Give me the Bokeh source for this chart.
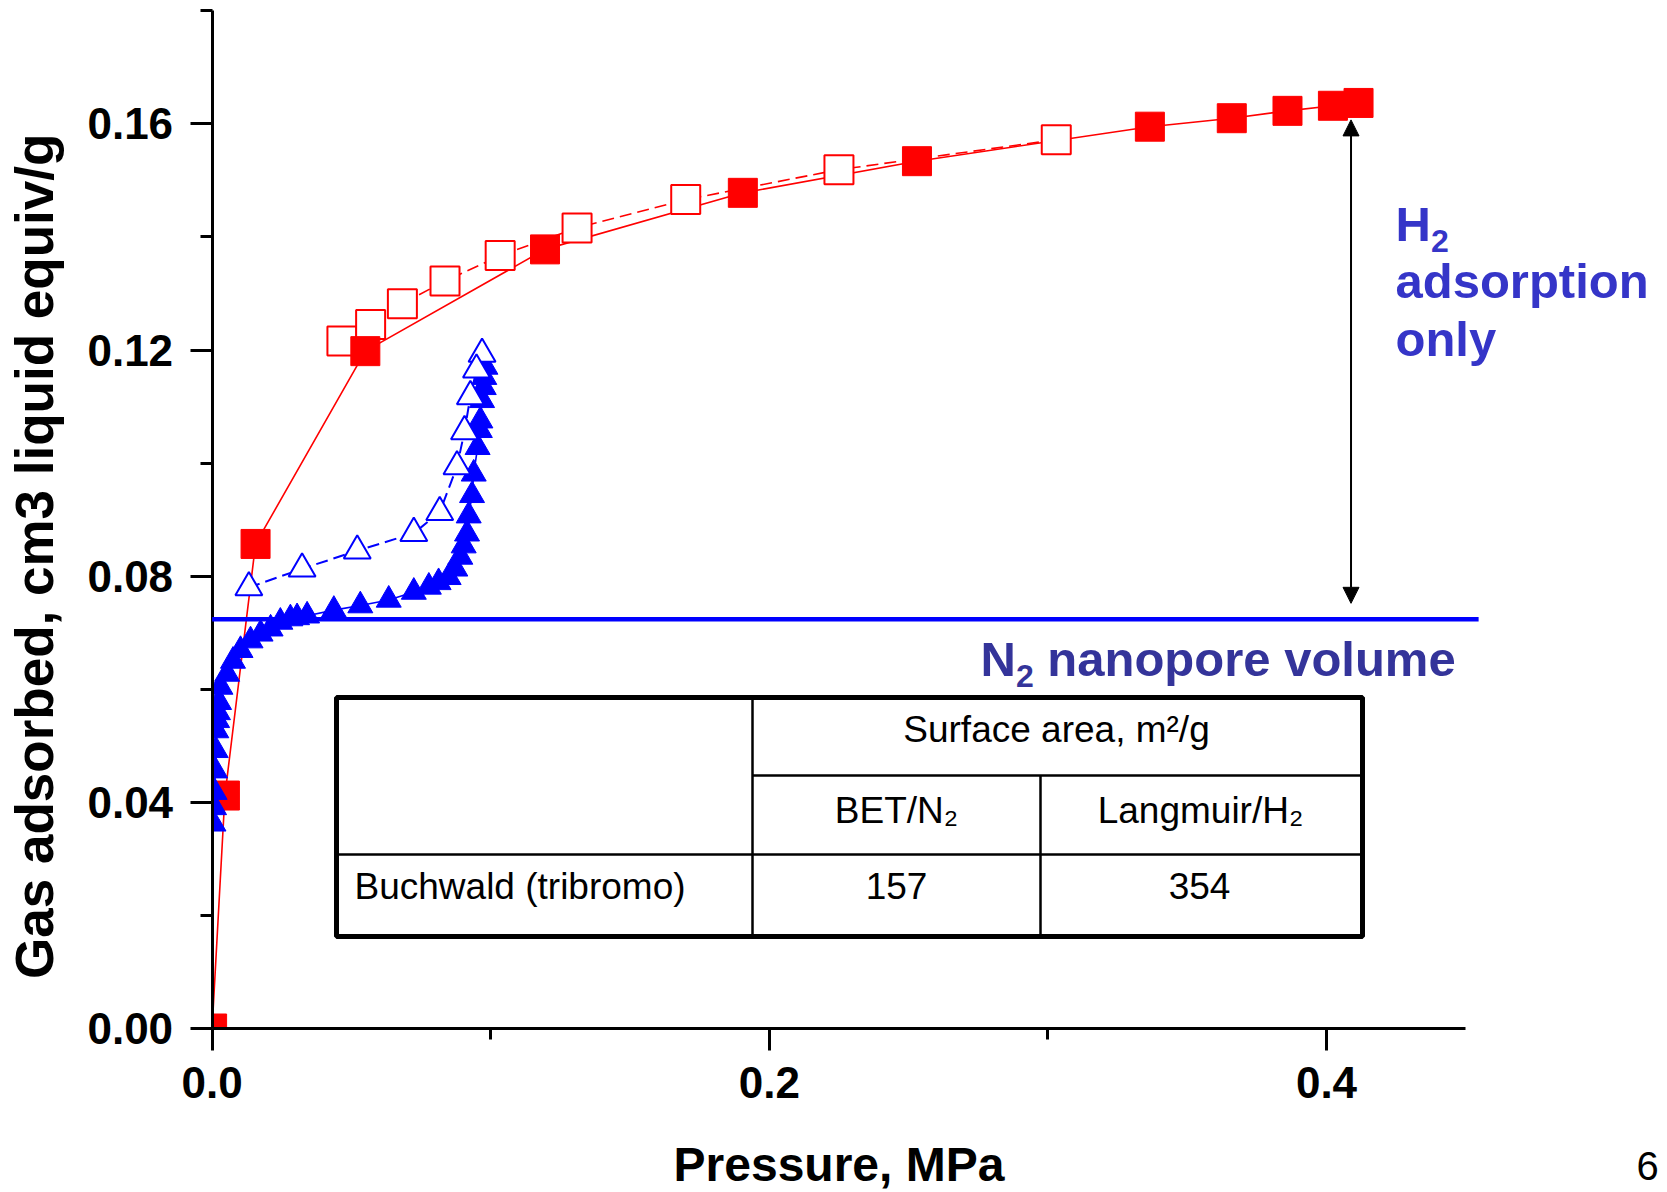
from bokeh.plotting import figure
from bokeh.models import Range1d, FixedTicker, NumeralTickFormatter, Label, Arrow, NormalHead
from bokeh.embed import file_html
from bokeh.resources import INLINE

# ---------------- data ----------------
# H2 adsorption (filled red squares)
h2_ads_x = [0.0, 0.0046, 0.0156, 0.055, 0.1195, 0.1905, 0.253, 0.3366, 0.366, 0.386, 0.4023, 0.4115]
h2_ads_y = [0.0, 0.0412, 0.0857, 0.1198, 0.1378, 0.1478, 0.1534, 0.1595, 0.1610, 0.1623, 0.1632, 0.1637]
# H2 desorption (open red squares)
h2_des_x = [0.0466, 0.0569, 0.0683, 0.0836, 0.1034, 0.131, 0.170, 0.225, 0.303]
h2_des_y = [0.1216, 0.1245, 0.1282, 0.1322, 0.1367, 0.1416, 0.1466, 0.1519, 0.1572]
# N2 adsorption (filled blue triangles)
n2_ads_x = [0.0005, 0.0007, 0.0009, 0.0011, 0.0013, 0.0015, 0.0018, 0.0021, 0.0025, 0.0030,
            0.0054, 0.0075, 0.0102, 0.0138, 0.0174, 0.0210, 0.0245, 0.0281, 0.0305, 0.0341,
            0.0437, 0.0532, 0.0634, 0.0724, 0.0778, 0.0813, 0.0849, 0.0873, 0.0891, 0.0903,
            0.0915, 0.0921, 0.0933, 0.0939, 0.0953, 0.0961, 0.0963, 0.0969, 0.0975, 0.0977, 0.0981]
n2_ads_y = [0.0362, 0.0391, 0.0418, 0.0456, 0.0492, 0.0527, 0.0545, 0.0559, 0.0577, 0.0604,
            0.0627, 0.0650, 0.0669, 0.0686, 0.0698, 0.0707, 0.0719, 0.0725, 0.0727, 0.0730,
            0.0740, 0.0748, 0.0758, 0.0772, 0.0781, 0.0789, 0.0798, 0.0813, 0.0834, 0.0854,
            0.0875, 0.0907, 0.0943, 0.0981, 0.1028, 0.1058, 0.1075, 0.1111, 0.1134, 0.1152, 0.1170]
# N2 desorption (open blue triangles)
n2_des_x = [0.0969, 0.0949, 0.0927, 0.0906, 0.0879, 0.0817, 0.0724, 0.0521, 0.0323, 0.0132]
n2_des_y = [0.1193, 0.1165, 0.1118, 0.1056, 0.0994, 0.0913, 0.0876, 0.0845, 0.0813, 0.0780]

n2_nanopore_volume = 0.0724
n2_line_end = 0.4546
h2_only_top = 0.1607
h2_only_bottom = 0.0752
h2_only_x = 0.4088

x_major = [0.0, 0.2, 0.4]
x_minor = [0.1, 0.3]
y_major = [0.0, 0.04, 0.08, 0.12, 0.16]
y_minor = [0.02, 0.06, 0.10, 0.14, 0.18]
x_axis_end = 0.45
y_axis_end = 0.18

table_header = "Surface area, m\u00b2/g"
table_cols = ["BET/N\u2082", "Langmuir/H\u2082"]
table_row = "Buchwald (tribromo)"
table_vals = ["157", "354"]

# ---------------- layout (page pixels) ----------------
W, H = 1666, 1190
X_ORIGIN_PX, Y_ORIGIN_PX = 211.6, 1028.0      # where (0, 0) sits on the page
PX_PER_X, PX_PER_Y = 2786.0, 5654.0           # pixels per data unit
FONT = "Liberation Sans"

def X(px):
    return (px - X_ORIGIN_PX) / PX_PER_X

def Y(py):
    return (Y_ORIGIN_PX - py) / PX_PER_Y

xr = Range1d(X(0), X(W))
yr = Range1d(Y(H), Y(0))

p = figure(width=W, height=H, output_backend="svg", toolbar_location=None,
           x_range=xr, y_range=yr, min_border=0)
p.outline_line_color = None
p.grid.visible = False
p.background_fill_color = "white"
p.border_fill_color = "white"

for ax in (p.xaxis[0], p.yaxis[0]):
    ax.fixed_location = 0
    ax.axis_line_width = 3
    ax.axis_line_color = "black"
    ax.major_tick_line_width = 3
    ax.minor_tick_line_width = 3
    ax.major_tick_line_color = "black"
    ax.minor_tick_line_color = "black"
    ax.major_tick_in = 0
    ax.minor_tick_in = 0
    ax.major_label_text_font = FONT
    ax.major_label_text_font_style = "bold"
    ax.major_label_text_font_size = "44px"
    ax.major_label_text_color = "black"
    ax.axis_label_text_font = FONT
    ax.axis_label_text_font_style = "bold"
    ax.axis_label_text_color = "black"

p.xaxis.bounds = (0, x_axis_end)
p.yaxis.bounds = (0, y_axis_end)
p.xaxis.ticker = FixedTicker(ticks=x_major, minor_ticks=x_minor)
p.yaxis.ticker = FixedTicker(ticks=y_major, minor_ticks=y_minor)
p.xaxis.formatter = NumeralTickFormatter(format="0.0")
p.yaxis.formatter = NumeralTickFormatter(format="0.00")
p.xaxis.major_tick_out = 22
p.xaxis.minor_tick_out = 11
p.yaxis.major_tick_out = 22
p.yaxis.minor_tick_out = 12
p.xaxis.major_label_standoff = 16
p.yaxis.major_label_standoff = 17
p.xaxis.axis_label = "Pressure, MPa"
# trailing no-break spaces move the (centred) label slightly down, as in the original
p.yaxis.axis_label = "Gas adsorbed, cm3 liquid equiv/g" + "\u00a0" * 5
p.xaxis.axis_label_text_font_size = "48px"
p.yaxis.axis_label_text_font_size = "53px"
p.xaxis.axis_label_standoff = 37
p.yaxis.axis_label_standoff = 21

RED = "#FF0000"
BLUE = "#0000FF"

# H2 lines and markers
p.line(h2_ads_x, h2_ads_y, line_color=RED, line_width=1.6)
p.line(h2_des_x, h2_des_y, line_color=RED, line_width=1.6, line_dash="12 6")
p.scatter(h2_des_x, h2_des_y, marker="square", size=29, fill_color="white",
          line_color=RED, line_width=2)
p.scatter(h2_ads_x, h2_ads_y, marker="square", size=29, fill_color=RED,
          line_color=RED, line_width=1)

# N2 lines and markers
p.line(n2_ads_x, n2_ads_y, line_color=BLUE, line_width=1.6)
p.line(n2_des_x, n2_des_y, line_color=BLUE, line_width=2, line_dash="12 6")
p.scatter(n2_ads_x, n2_ads_y, marker="triangle", size=25, fill_color=BLUE,
          line_color=BLUE, line_width=1)
p.scatter(n2_des_x, n2_des_y, marker="triangle", size=27, fill_color="white",
          line_color=BLUE, line_width=2)

# markers are clipped at the axes in the original: white masks outside the quadrant
p.quad(left=[xr.start], right=[0], bottom=[yr.start], top=[yr.end],
       fill_color="white", line_color=None)
p.quad(left=[0], right=[xr.end], bottom=[yr.start], top=[0],
       fill_color="white", line_color=None)

# N2 nanopore volume line
p.add_layout(Arrow(start=None, end=None, x_start=0, y_start=n2_nanopore_volume,
                   x_end=n2_line_end, y_end=n2_nanopore_volume,
                   line_color=BLUE, line_width=4.5))

# H2-only double arrow
p.add_layout(Arrow(start=NormalHead(size=16, fill_color="black", line_color="black", line_width=1),
                   end=NormalHead(size=16, fill_color="black", line_color="black", line_width=1),
                   x_start=h2_only_x, y_start=h2_only_bottom,
                   x_end=h2_only_x, y_end=h2_only_top,
                   line_color="black", line_width=2))

BASELINE_SHIFT = 0.385   # measured offset of rendered baseline, in em

def lab(txt, px, baseline_py, size, color="black", bold=False, align="left"):
    py = baseline_py - BASELINE_SHIFT * size
    p.add_layout(Label(x=X(px), y=Y(py), text=txt, text_font=FONT,
                       text_font_size=f"{size}px", text_color=color,
                       text_font_style="bold" if bold else "normal",
                       text_align=align, text_baseline="alphabetic"))

# annotation texts (subscripts set as smaller, lowered text)
N2C = "#34349A"
H2C = "#3535C8"
lab("N", 980, 677, 49, N2C, True)
lab("2", 1015.4, 688, 32, N2C, True)
lab("nanopore volume", 1046.8, 677, 49, N2C, True)
lab("H", 1395, 242, 49, H2C, True)
lab("2", 1430.4, 253, 32, H2C, True)
lab("adsorption", 1395, 299, 49, H2C, True)
lab("only", 1395, 357, 49, H2C, True)

# table
TL, TR, TT, TB = 336, 1362, 697, 936
C1, C2 = 752, 1040
R1, R2 = 775, 854
p.quad(left=[X(TL)], right=[X(TR)], top=[Y(TT)], bottom=[Y(TB)],
       fill_color="white", line_color="black", line_width=5)
p.segment(x0=[X(C1), X(C2), X(C1), X(TL)],
          y0=[Y(TT), Y(R1), Y(R1), Y(R2)],
          x1=[X(C1), X(C2), X(TR), X(TR)],
          y1=[Y(TB), Y(TB), Y(R1), Y(R2)],
          line_color="black", line_width=2.5)

lab(table_header, 1056, 743, 37, align="center")
lab(table_cols[0], 896, 824, 37, align="center")
lab(table_cols[1], 1200, 824, 37, align="center")
lab(table_row, 354, 900, 37)
lab(table_vals[0], 896, 900, 37, align="center")
lab(table_vals[1], 1199, 900, 37, align="center")

# slide page number
lab("6", 1636, 1181, 40)

open("out.html", "w").write(file_html(p, INLINE))
